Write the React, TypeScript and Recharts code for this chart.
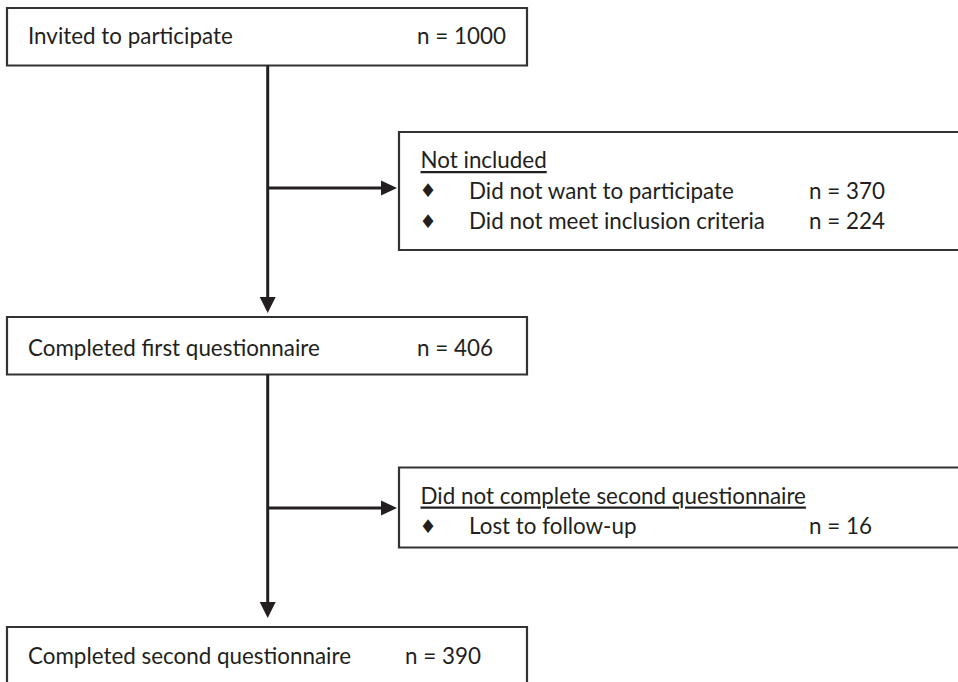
import React from 'react';
import { ComposedChart, XAxis, YAxis, ReferenceArea, ReferenceLine, Scatter } from 'recharts';

// ---- data ----
const stageLabels = ['Invited to participate', 'Completed first questionnaire', 'Completed second questionnaire'];
const stageCounts = [1000, 406, 390];
const exclusionTitles = ['Not included', 'Did not complete second questionnaire'];
const exclusionReasons = [['Did not want to participate', 'Did not meet inclusion criteria'], ['Lost to follow-up']];
const exclusionCounts = [[370, 224], [16]];

// ---- layout (pixel-like units on a 958 x 682 canvas) ----
const W = 958;
const H = 682;
const MAIN_LEFT = 7;
const MAIN_RIGHT = 527;
const MAIN_TOPS = [8, 317, 627];
const MAIN_H = 57.5;
const MAIN_TEXT_DY = [27, 30.5, 28.5];
const MAIN_LABEL_X = 28;
const MAIN_COUNT_X = [417, 417, 405];
const SIDE_LEFT = 399;
const SIDE_RIGHT = 961;
const SIDE_TOPS = [132, 467.5];
const SIDE_BOTTOMS = [250, 547.5];
const SIDE_TITLE_X = 420.5;
const SIDE_BULLET_X = 428;
const SIDE_REASON_X = 469;
const SIDE_COUNT_X = 809;
const SIDE_TITLE_DY = 27.5;
const SIDE_LINE_STEP = 30.5;
const SPINE_X = 267.7;
const BRANCH_Y = [188, 508];
const DOWN_TIPS = [313, 618];
const RIGHT_TIP_X = 397;

const TEXT = '#231f20';
const FONT = 'Lato, "Open Sans", sans-serif';
const FS = 22.4;

type Item = { x: number; y: number; text: string; kind: string };

const textItems: Item[] = [];
stageLabels.forEach((label, i) => {
  const cy = MAIN_TOPS[i] + MAIN_TEXT_DY[i];
  textItems.push({ x: MAIN_LABEL_X, y: cy, text: label, kind: 'label' });
  textItems.push({ x: MAIN_COUNT_X[i], y: cy, text: `n = ${stageCounts[i]}`, kind: 'label' });
});
exclusionTitles.forEach((title, b) => {
  const ty = SIDE_TOPS[b] + SIDE_TITLE_DY;
  textItems.push({ x: SIDE_TITLE_X, y: ty, text: title, kind: 'title' });
  exclusionReasons[b].forEach((r, j) => {
    const ly = ty + SIDE_LINE_STEP * (j + 1);
    textItems.push({ x: SIDE_BULLET_X, y: ly, text: '\u2666', kind: 'bullet' });
    textItems.push({ x: SIDE_REASON_X, y: ly, text: r, kind: 'label' });
    textItems.push({ x: SIDE_COUNT_X, y: ly, text: `n = ${exclusionCounts[b][j]}`, kind: 'label' });
  });
});

const arrowTips = [
  ...DOWN_TIPS.map((t) => ({ x: SPINE_X, y: t, dir: 'down' })),
  ...BRANCH_Y.map((y) => ({ x: RIGHT_TIP_X, y, dir: 'right' })),
];

const TextShape = (props: any) => {
  const { cx, cy, payload } = props;
  if (cx == null || cy == null) return <g />;
  if (payload.kind === 'bullet') {
    return (
      <text x={cx} y={cy} dominantBaseline="central" textAnchor="middle" fontFamily='"DejaVu Sans", sans-serif' fontSize={19} fill={TEXT}>
        {payload.text}
      </text>
    );
  }
  return (
    <text
      x={cx}
      y={cy}
      dominantBaseline="central"
      fontFamily={FONT}
      fontSize={FS}
      fill={TEXT}
      style={payload.kind === 'title' ? { textDecoration: 'underline' } : undefined}
    >
      {payload.text}
    </text>
  );
};

const ArrowShape = (props: any) => {
  const { cx, cy, payload } = props;
  if (cx == null || cy == null) return <g />;
  const pts =
    payload.dir === 'down'
      ? `${cx - 8},${cy - 16} ${cx + 8},${cy - 16} ${cx},${cy}`
      : `${cx - 16},${cy - 7.5} ${cx - 16},${cy + 7.5} ${cx},${cy}`;
  return <polygon points={pts} fill={TEXT} stroke="none" />;
};

export default function App() {
  const boxStroke = '#333333';
  return (
    <div style={{ position: 'absolute', left: 0, top: 0, width: W, height: H, background: '#fff' }}>
      <ComposedChart width={W} height={H} margin={{ top: 0, right: 0, bottom: 0, left: 0 }}>
        <XAxis type="number" dataKey="x" domain={[0, W]} hide allowDataOverflow />
        <YAxis type="number" dataKey="y" domain={[0, H]} reversed hide allowDataOverflow />

        {MAIN_TOPS.map((t, i) => (
          <ReferenceArea
            key={`m${i}`}
            x1={MAIN_LEFT}
            x2={MAIN_RIGHT}
            y1={t}
            y2={t + MAIN_H}
            fill="#ffffff"
            fillOpacity={0}
            stroke={boxStroke}
            strokeWidth={2.2}
            ifOverflow="visible"
          />
        ))}
        {SIDE_TOPS.map((t, i) => (
          <ReferenceArea
            key={`s${i}`}
            x1={SIDE_LEFT}
            x2={SIDE_RIGHT}
            y1={t}
            y2={SIDE_BOTTOMS[i]}
            fill="#ffffff"
            fillOpacity={0}
            stroke={boxStroke}
            strokeWidth={2.2}
            ifOverflow="visible"
          />
        ))}

        <ReferenceLine
          segment={[{ x: SPINE_X, y: MAIN_TOPS[0] + MAIN_H }, { x: SPINE_X, y: DOWN_TIPS[0] - 10 }]}
          stroke={TEXT}
          strokeWidth={3}
          ifOverflow="visible"
        />
        <ReferenceLine
          segment={[{ x: SPINE_X, y: MAIN_TOPS[1] + MAIN_H }, { x: SPINE_X, y: DOWN_TIPS[1] - 10 }]}
          stroke={TEXT}
          strokeWidth={3}
          ifOverflow="visible"
        />
        {BRANCH_Y.map((y, i) => (
          <ReferenceLine
            key={`b${i}`}
            segment={[{ x: SPINE_X, y }, { x: RIGHT_TIP_X - 10, y }]}
            stroke={TEXT}
            strokeWidth={3}
            ifOverflow="visible"
          />
        ))}

        <Scatter data={arrowTips} shape={ArrowShape} isAnimationActive={false} />
        <Scatter data={textItems} shape={TextShape} isAnimationActive={false} />
      </ComposedChart>
    </div>
  );
}
